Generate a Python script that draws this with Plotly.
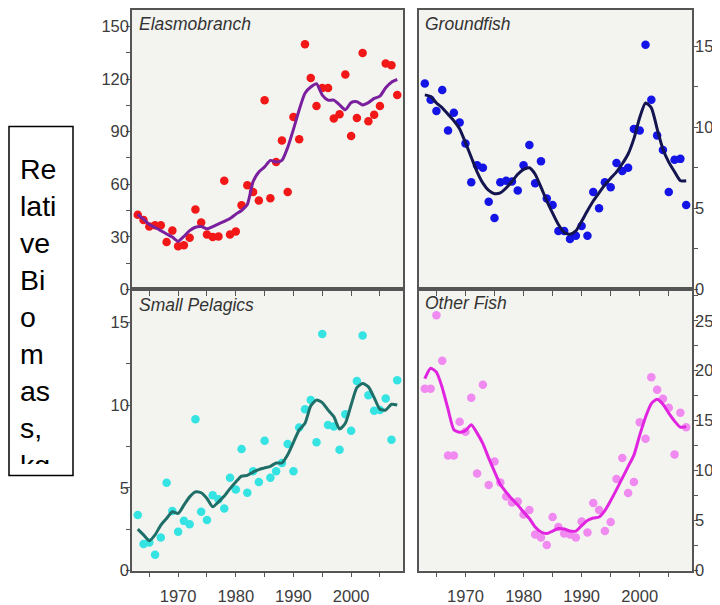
"""Relative biomass trends for four fish groups, 1963-2008."""

import plotly.graph_objects as go

# Shared styling
PANEL_BG = "#F3F4EF"
AXIS_GREY = "#555555"
TICK_GREY = "#3C3C3C"
FONT = "Liberation Sans, Arial, sans-serif"

YEARS = list(range(1963, 2009))

# Elasmobranch: annual points and smoothed trend
elasmo_points = [
    42.5, 39.5, 35.8, 36.5, 36.5, 27.0, 33.5, 24.6, 25.2, 29.4,
    45.5, 38.2, 31.3, 29.8, 30.2, 62.0, 31.3, 33.0, 48.0, 59.4,
    55.5, 50.7, 108.0, 52.0, 72.7, 85.0, 55.5, 98.4, 85.7, 140.0,
    120.7, 104.7, 115.0, 115.0, 97.5, 100.0, 122.6, 87.6, 97.8, 135.0,
    96.0, 99.7, 104.7, 129.0, 128.0, 111.0,
]
elasmo_trend = [
    42.8, 40.0, 37.0, 35.3, 33.5, 31.6, 29.8, 27.4, 30.2, 33.5,
    35.4, 35.8, 34.5, 35.8, 37.3, 38.8, 40.4, 42.9, 45.0, 48.4,
    61.5, 67.0, 69.9, 73.6, 72.7, 73.6, 81.0, 91.3, 102.5, 112.0,
    115.5, 117.4, 110.9, 108.0, 108.0, 105.3, 102.5, 106.6, 107.1, 105.3,
    106.6, 109.0, 110.3, 115.1, 118.3, 119.8,
]

# Groundfish
ground_points = [
    12.7, 11.7, 11.0, 12.3, 9.8, 10.9, 10.3, 9.0, 6.6, 7.65,
    7.5, 5.4, 4.4, 6.6, 6.7, 6.65, 6.1, 7.65, 8.9, 6.55,
    7.9, 5.6, 5.2, 3.6, 3.6, 3.1, 3.3, 3.9, 3.3, 6.0,
    5.0, 6.6, 6.3, 7.8, 7.3, 7.5, 9.9, 9.8, 15.1, 11.7,
    9.5, 8.6, 6.0, 8.0, 8.05, 5.2,
]
ground_trend = [
    12.0, 11.9, 11.5, 11.2, 10.8, 10.4, 9.9, 9.05, 8.15, 7.25,
    6.55, 6.1, 5.9, 5.95, 6.25, 6.65, 7.1, 7.4, 7.5, 7.1,
    6.3, 5.45, 4.7, 4.0, 3.5, 3.4, 3.6, 4.2, 4.85, 5.45,
    5.95, 6.45, 6.85, 7.25, 7.75, 8.35, 9.3, 10.6, 11.5, 11.2,
    9.9, 8.65, 7.85, 7.25, 6.7, 6.7,
]

# Small pelagics
pelagic_points = [
    3.35, 1.6, 1.7, 0.95, 2.0, 5.3, 3.6, 2.35, 3.0, 2.8,
    9.15, 3.55, 3.05, 4.55, 4.3, 3.75, 5.6, 4.9, 7.35, 4.7,
    6.0, 5.35, 7.85, 5.6, 6.0, 6.5, 7.65, 6.0, 8.65, 9.75,
    10.3, 7.75, 14.3, 8.8, 8.7, 7.3, 9.45, 8.45, 11.45, 14.2,
    10.6, 9.65, 9.7, 10.4, 7.9, 11.5,
]
pelagic_trend = [
    2.5, 2.15, 1.8, 2.15, 2.75, 3.15, 3.55, 3.45, 3.95, 4.45,
    4.75, 4.7, 4.35, 3.85, 4.15, 4.5, 4.95, 5.35, 5.7, 5.75,
    5.95, 6.1, 6.2, 6.3, 6.5, 6.5, 7.0, 7.75, 8.5, 8.9,
    9.95, 10.3, 10.15, 9.7, 9.3, 8.55, 8.9, 10.0, 11.05, 11.3,
    11.1, 10.45, 9.75, 9.7, 10.05, 10.0,
]

# Other fish
other_points = [
    18.2, 18.2, 25.55, 21.0, 11.5, 11.5, 14.9, 13.9, 17.3, 9.7,
    18.6, 8.55, 10.9, 8.8, 7.4, 6.8, 6.9, 5.6, 6.05, 3.6,
    3.3, 2.55, 5.35, 4.35, 3.7, 3.6, 3.3, 4.9, 3.8, 6.75,
    6.05, 3.95, 4.85, 9.15, 11.25, 7.75, 8.85, 14.85, 13.2, 19.35,
    18.1, 17.2, 16.3, 11.6, 15.8, 14.35,
]
other_trend = [
    19.2, 20.25, 19.85, 18.3, 16.15, 14.1, 13.85, 14.0, 14.6, 13.75,
    12.7, 11.25, 9.9, 8.6, 7.85, 7.15, 6.55, 5.85, 5.2, 4.35,
    3.85, 3.7, 3.95, 4.2, 4.15, 3.95, 3.95, 4.5, 5.0, 5.25,
    5.35, 6.0, 7.0, 8.1, 9.25, 10.4, 11.55, 13.55, 15.35, 16.7,
    17.15, 16.65, 15.75, 14.95, 14.35, 14.4,
]

# name, points, trend, point colour, line colour, axis suffix
panels = [
    ("Elasmobranch", elasmo_points, elasmo_trend, "#F21818", "#7A1F9E", ""),
    ("Groundfish", ground_points, ground_trend, "#1414E6", "#141450", "2"),
    ("Small Pelagics", pelagic_points, pelagic_trend, "#35E3E3", "#1F6E68", "3"),
    ("Other Fish", other_points, other_trend, "#F08AF0", "#E024E0", "4"),
]

# the page body adds an 8px margin, so the figure is drawn 8px smaller
W, H = 712, 597
x_left = [124 / W, 395 / W]
x_right = [411 / W, 684 / W]
y_top = [1 - 285 / H, 1]
y_bottom = [1 - 572 / H, 1 - 285 / H]

fig = go.Figure()

for name, pts, trend, pcol, lcol, sfx in panels:
    fig.add_trace(
        go.Scatter(
            x=YEARS, y=pts, mode="markers", name=name,
            marker=dict(color=pcol, size=8.5),
            xaxis="x" + sfx, yaxis="y" + sfx, showlegend=False,
        )
    )
    fig.add_trace(
        go.Scatter(
            x=YEARS, y=trend, mode="lines", name=name + " trend",
            line=dict(color=lcol, width=3, shape="spline", smoothing=0.6),
            xaxis="x" + sfx, yaxis="y" + sfx, showlegend=False,
        )
    )


def x_axis(domain, anchor, labels):
    return dict(
        domain=domain, anchor=anchor, range=[1962, 2009],
        tickvals=[1970, 1980, 1990, 2000], showticklabels=labels,
        ticks="outside", ticklen=5, tickcolor=AXIS_GREY,
        minor=dict(dtick=5, tick0=1965, ticks="outside", ticklen=5, tickcolor=AXIS_GREY),
        showline=True, linecolor=AXIS_GREY, linewidth=1.5, mirror=True,
        showgrid=False, zeroline=False, ticklabelstandoff=5,
        tickfont=dict(size=16.5, color=TICK_GREY, family=FONT),
    )


def y_axis(domain, anchor, top, dtick, side):
    return dict(
        domain=domain, anchor=anchor, range=[0, top], dtick=dtick, side=side,
        ticks="outside", ticklen=4, tickcolor=AXIS_GREY,
        minor=dict(dtick=dtick / 2, ticks="outside", ticklen=4, tickcolor=AXIS_GREY),
        showline=True, linecolor=AXIS_GREY, linewidth=1.5, mirror=True,
        showgrid=False, zeroline=False, ticklabelstandoff=-6,
        tickfont=dict(size=16.5, color=TICK_GREY, family=FONT),
    )


fig.update_layout(
    xaxis=x_axis(x_left, "y", False),
    yaxis=y_axis(y_top, "x", 159.5, 30, "left"),
    xaxis2=x_axis(x_right, "y2", False),
    yaxis2=y_axis(y_top, "x2", 17.24, 5, "right"),
    xaxis3=x_axis(x_left, "y3", True),
    yaxis3=y_axis(y_bottom, "x3", 17.0, 5, "left"),
    xaxis4=x_axis(x_right, "y4", True),
    yaxis4=y_axis(y_bottom, "x4", 28.15, 5, "right"),
)

# Panel labels
label_pos = [("", 0.018, 0.951), ("2", 0.015, 0.951), ("3", 0.018, 0.944), ("4", 0.015, 0.951)]
for (name, *_), (sfx, lx, ly) in zip(panels, label_pos):
    fig.add_annotation(
        text=f"<i>{name}</i>", xref=f"x{sfx} domain", yref=f"y{sfx} domain",
        x=lx, y=ly, xanchor="left", yanchor="middle", showarrow=False,
        font=dict(size=17.5, color="#333333", family=FONT),
    )

# Y-axis caption squeezed into a narrow text box
fig.add_shape(
    type="rect", xref="paper", yref="paper",
    x0=1 / W, x1=65 / W, y0=1 - 475 / H, y1=1 - 119 / H,
    line=dict(color="black", width=1.5), fillcolor="white",
)
fig.add_annotation(
    text="Re<br>lati<br>ve<br>Bi<br>o<br>m<br>as<br>s,<br>kg<br>/k<br>m²",
    xref="paper", yref="paper", x=10 / W, y=1 - 144 / H,
    xanchor="left", yanchor="top", align="left", valign="top",
    width=54, height=311, showarrow=False,
    font=dict(size=28.5, color="black", family=FONT),
)

fig.update_layout(
    width=W, height=H,
    margin=dict(l=0, r=0, t=0, b=0),
    plot_bgcolor=PANEL_BG, paper_bgcolor="white",
    font=dict(family=FONT),
)

fig.write_html("out.html")
